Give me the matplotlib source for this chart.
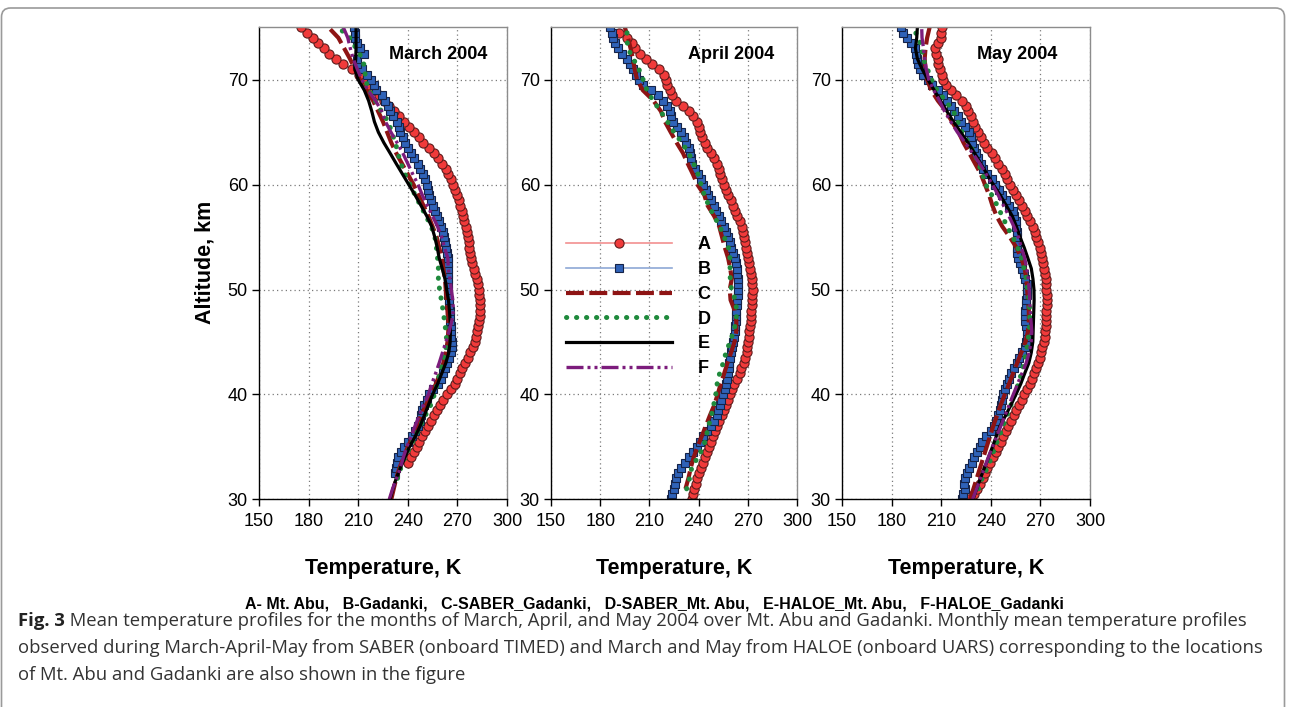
import numpy as np
import matplotlib
matplotlib.use("Agg")
import matplotlib.pyplot as plt
from matplotlib.lines import Line2D
from matplotlib.patches import FancyBboxPatch
from matplotlib.transforms import IdentityTransform

# ---------------------------------------------------------------- data
months = ["March 2004", "April 2004", "May 2004"]
series_keys = ["A", "B", "C", "D", "E", "F"]
series_names = ["A- Mt. Abu", "B-Gadanki", "C-SABER_Gadanki",
                "D-SABER_Mt. Abu", "E-HALOE_Mt. Abu", "F-HALOE_Gadanki"]
x_ticks = [150, 180, 210, 240, 270, 300]
y_ticks = [30, 40, 50, 60, 70]

# Lidar profiles (0.5 km steps): first altitude in km, then temperatures in K
mar_A_start = 33.5
mar_A = [240.3, 242.0, 243.7, 245.3, 246.9, 248.5, 250.2, 252.0, 253.9, 255.9,
         257.8, 259.6, 261.5, 263.8, 266.2, 268.3, 270.0, 271.5, 273.0, 274.5,
         276.2, 277.9, 279.4, 280.5, 281.4, 282.1, 282.7, 283.1, 283.4, 283.6,
         283.7, 283.6, 283.3, 282.8, 282.3, 281.7, 280.8, 279.9, 278.9, 278.3,
         277.8, 277.3, 276.8, 276.2, 275.7, 275.0, 274.2, 273.4, 272.6, 271.8,
         270.8, 269.8, 268.8, 267.6, 266.2, 264.6, 262.9, 260.8, 258.5, 255.8,
         252.6, 249.4, 246.5, 243.6, 240.8, 237.8, 234.6, 231.5, 228.5, 225.6,
         222.5, 219.4, 216.2, 213.2, 210.2, 206.0, 201.0, 196.5, 192.5, 189.2,
         185.8, 182.5, 178.8, 175.5]
mar_B_start = 32.5
mar_B = [232.0, 232.6, 233.4, 234.3, 235.6, 237.5, 240.0, 242.5, 244.2, 246.0,
         247.6, 248.2, 248.8, 249.6, 251.4, 253.0, 255.5, 258.0, 259.8, 261.2,
         262.5, 263.8, 265.2, 266.0, 266.5, 266.6, 266.4, 266.2, 266.0, 265.8,
         265.6, 265.4, 265.0, 264.7, 264.5, 264.5, 264.6, 264.6, 264.6, 264.6,
         264.5, 264.4, 263.7, 263.1, 262.5, 261.7, 261.0, 260.1, 259.0, 257.7,
         256.3, 255.0, 253.8, 253.0, 252.2, 251.5, 250.2, 249.0, 247.4, 245.9,
         244.0, 242.0, 240.2, 238.6, 237.0, 235.3, 234.5, 233.3, 231.3, 229.3,
         228.2, 226.5, 224.2, 220.8, 219.3, 217.7, 215.2, 212.2, 209.5, 209.0,
         213.5, 210.8, 209.5, 208.1, 207.8, 207.5]
apr_A_start = 30.0
apr_A = [235.8, 236.6, 237.3, 238.2, 239.2, 240.3, 241.4, 242.6, 243.8, 245.1,
         246.4, 247.7, 249.0, 250.2, 251.5, 252.7, 254.0, 255.3, 256.6, 257.9,
         259.2, 260.5, 261.8, 263.5, 265.0, 266.1, 267.4, 268.5, 269.3, 269.8,
         270.3, 270.7, 271.0, 271.3, 271.7, 272.0, 272.2, 272.4, 272.6, 272.8,
         273.0, 272.8, 272.4, 272.0, 271.6, 271.0, 270.2, 269.5, 269.0, 268.5,
         267.8, 267.1, 266.4, 265.0, 263.5, 262.0, 260.8, 259.5, 258.1, 256.8,
         255.5, 254.3, 253.2, 252.3, 251.3, 249.5, 247.3, 245.0, 243.6, 242.1,
         241.0, 240.0, 238.8, 236.8, 234.0, 230.5, 226.5, 223.5, 222.3, 221.0,
         220.2, 219.0, 216.0, 211.5, 208.0, 204.5, 201.5, 199.3, 196.5, 191.5]
apr_B_start = 30.0
apr_B = [223.4, 224.0, 224.7, 225.5, 226.5, 227.6, 229.3, 231.5, 234.4, 236.6,
         238.8, 240.9, 242.9, 245.3, 247.8, 249.6, 251.1, 252.0, 252.8, 253.8,
         255.0, 256.1, 256.9, 257.6, 258.0, 258.4, 258.8, 259.2, 259.8, 260.5,
         261.2, 261.6, 261.9, 262.2, 262.5, 262.8, 263.0, 263.2, 263.5, 263.9,
         264.2, 264.1, 263.8, 263.5, 263.2, 262.7, 262.0, 261.0, 260.0, 259.1,
         258.0, 256.8, 255.4, 253.8, 252.3, 250.7, 249.2, 247.5, 245.9, 244.3,
         242.8, 241.2, 239.5, 237.8, 236.2, 235.2, 234.8, 234.0, 232.6, 231.0,
         229.1, 226.9, 224.6, 223.3, 222.4, 220.5, 218.2, 215.0, 211.0, 206.2,
         203.8, 201.8, 200.0, 198.2, 196.4, 193.5, 191.0, 189.3, 188.0, 187.0,
         186.0]
may_A_start = 30.0
may_A = [226.4, 229.8, 231.8, 233.4, 235.0, 236.4, 238.0, 239.6, 241.4, 243.0,
         244.5, 246.1, 247.6, 249.1, 250.7, 252.3, 253.9, 255.4, 257.1, 258.8,
         260.3, 261.9, 263.5, 264.9, 266.3, 267.6, 268.6, 269.5, 270.3, 271.1,
         272.0, 272.7, 273.0, 273.3, 273.4, 273.5, 273.6, 273.7, 273.8, 273.8,
         273.6, 273.4, 273.2, 272.8, 272.2, 271.5, 271.0, 270.4, 269.6, 268.6,
         267.6, 266.5, 265.3, 263.7, 262.0, 260.4, 258.7, 257.0, 255.4, 253.6,
         251.6, 250.0, 248.4, 246.7, 244.5, 242.5, 240.6, 238.0, 235.9, 234.0,
         232.2, 230.5, 229.0, 227.8, 226.4, 225.0, 222.5, 219.0, 215.7, 212.8,
         211.2, 210.6, 209.5, 208.3, 207.8, 206.8, 206.0, 208.0, 209.6, 210.0,
         210.4]
may_B_start = 30.0
may_B = [222.8, 223.4, 224.2, 223.8, 224.4, 225.4, 227.0, 228.5, 230.0, 231.5,
         233.2, 234.9, 237.3, 240.2, 242.0, 243.4, 244.5, 245.5, 246.0, 246.6,
         247.5, 248.4, 249.7, 251.3, 252.4, 254.1, 255.6, 257.2, 259.0, 260.5,
         261.2, 261.6, 261.7, 261.2, 260.8, 260.7, 260.9, 261.2, 261.4, 261.6,
         261.7, 261.6, 260.7, 259.9, 258.8, 257.8, 256.6, 255.8, 255.7, 255.7,
         255.7, 255.7, 255.5, 255.2, 254.3, 253.2, 251.2, 249.2, 247.0, 244.8,
         242.7, 240.6, 237.8, 235.5, 234.0, 232.5, 231.0, 230.0, 228.7, 228.2,
         227.0, 224.6, 222.2, 220.2, 218.0, 215.7, 213.6, 211.3, 207.8, 204.6,
         201.8, 199.2, 197.3, 196.2, 195.5, 195.0, 194.0, 191.8, 189.5, 187.0,
         185.5]

# Satellite profiles (1 km steps): first altitude in km, then temperatures in K
mar_C_start = 30
mar_C = [230.0, 231.5, 233.0, 235.0, 237.5, 240.0, 243.0, 245.5, 248.0, 251.0,
         254.0, 257.0, 259.5, 261.5, 263.0, 264.0, 264.5, 264.5, 264.0, 263.5,
         263.0, 262.5, 261.5, 260.5, 259.0, 257.5, 255.0, 252.5, 249.5, 246.5,
         243.5, 240.0, 236.5, 233.0, 230.0, 227.5, 225.0, 222.0, 219.0, 215.0,
         211.0, 208.0, 205.0, 201.5, 198.0, 192.0]
mar_D_start = 32
mar_D = [233.8, 235.8, 238.2, 241.4, 244.5, 247.6, 250.7, 253.9, 256.1, 257.8,
         259.3, 260.9, 262.6, 263.6, 263.0, 262.2, 261.3, 260.3, 259.2, 258.5,
         258.5, 258.0, 257.3, 256.4, 254.2, 251.0, 247.7, 244.4, 241.4, 238.3,
         235.8, 234.0, 232.5, 230.3, 228.2, 224.0, 220.3, 216.6, 214.3, 214.1,
         212.6, 208.7, 204.8, 198.0]
mar_E_start = 30
mar_E = [229.3, 231.0, 233.0, 235.5, 238.3, 241.0, 244.5, 247.5, 250.0, 252.5,
         255.0, 258.0, 260.5, 263.0, 264.8, 265.6, 265.8, 265.6, 265.2, 264.6,
         263.5, 262.5, 260.8, 259.0, 257.8, 256.3, 254.5, 251.5, 248.0, 244.4,
         240.6, 236.8, 233.0, 229.3, 225.5, 222.2, 219.8, 218.2, 216.3, 213.7,
         210.0, 208.0, 208.5, 208.7, 208.7, 208.7]
mar_F_start = 30
mar_F = [228.8, 230.8, 233.2, 235.5, 237.3, 239.4, 242.0, 244.4, 247.0, 249.5,
         252.5, 254.5, 256.8, 259.0, 261.0, 263.0, 265.0, 266.6, 267.6, 267.2,
         266.3, 265.5, 264.5, 264.2, 262.2, 260.5, 258.0, 255.0, 251.8, 248.8,
         246.2, 243.0, 240.0, 237.0, 233.5, 229.8, 226.5, 224.2, 220.5, 216.0,
         212.2, 209.5, 207.0, 205.2, 203.7, 201.0]
apr_C_start = 31
apr_C = [232.0, 233.8, 235.2, 237.0, 239.3, 241.9, 244.4, 246.9, 249.6, 251.6,
         253.5, 255.6, 257.6, 259.8, 261.9, 263.0, 263.0, 262.0, 259.5, 259.0,
         260.2, 259.3, 258.0, 256.0, 254.3, 252.6, 249.5, 245.5, 243.5, 239.3,
         236.5, 233.4, 230.5, 226.6, 223.0, 219.5, 217.0, 212.5, 206.0, 202.5,
         201.0, 200.0, 198.5, 197.0, 195.0]
apr_D_start = 31
apr_D = [232.7, 234.5, 235.8, 239.5, 243.0, 244.6, 246.1, 247.8, 249.2, 250.5,
         251.3, 252.8, 255.0, 256.7, 259.1, 261.4, 262.9, 263.2, 262.4, 260.0,
         259.3, 259.2, 259.1, 258.2, 255.6, 253.0, 249.4, 246.2, 243.5, 241.5,
         239.6, 237.0, 234.0, 229.8, 225.0, 221.0, 216.8, 212.3, 208.5, 206.2,
         203.6, 200.2, 196.8, 196.3, 196.5]
may_C_start = 30
may_C = [227.5, 229.5, 231.5, 233.5, 235.5, 237.5, 239.5, 241.5, 243.8, 246.0,
         248.5, 251.0, 253.5, 256.0, 258.5, 261.0, 262.5, 263.0, 263.0, 262.5,
         262.0, 261.5, 260.5, 258.5, 255.5, 251.5, 247.0, 243.5, 241.0, 239.0,
         236.5, 234.0, 230.5, 227.0, 223.5, 220.5, 216.5, 213.0, 208.0, 204.0,
         201.5, 200.5, 200.0, 200.5, 201.5, 203.0]
may_D_start = 31
may_D = [232.6, 234.8, 237.9, 240.4, 242.7, 245.1, 247.5, 249.8, 252.2, 254.5,
         256.6, 258.5, 260.1, 261.4, 262.4, 263.2, 263.5, 263.6, 263.0, 262.2,
         261.4, 260.1, 258.6, 256.2, 253.3, 249.9, 246.9, 243.9, 240.6, 237.0,
         235.0, 232.6, 230.0, 226.6, 222.6, 220.0, 217.4, 212.5, 207.5, 204.2,
         201.7, 199.1, 198.2, 196.4, 192.5]
may_E_start = 30
may_E = [229.3, 231.5, 233.7, 236.2, 238.6, 241.0, 243.3, 245.6, 249.0, 252.2,
         255.2, 258.1, 260.5, 263.0, 264.5, 265.4, 265.6, 265.8, 266.0, 266.2,
         266.1, 265.5, 264.5, 262.4, 260.2, 257.7, 255.5, 253.0, 249.4, 245.7,
         241.5, 237.7, 234.0, 230.2, 226.2, 221.8, 217.4, 213.4, 209.6, 205.8,
         202.0, 198.5, 195.6, 194.4, 195.2, 195.6]
may_F_start = 30
may_F = [229.0, 231.4, 233.7, 236.2, 238.5, 241.0, 243.6, 246.1, 248.6, 251.1,
         253.6, 256.2, 258.8, 261.4, 263.2, 264.4, 264.8, 264.3, 263.8, 263.5,
         263.2, 262.7, 261.7, 260.5, 258.5, 256.7, 254.0, 251.0, 247.7, 244.5,
         241.0, 237.2, 233.4, 229.0, 224.5, 219.8, 215.8, 212.0, 209.0, 205.5,
         202.5, 201.0, 200.0, 199.3, 198.4, 198.2]

caption_lines = [
    "Mean temperature profiles for the months of March, April, and May 2004 over Mt. Abu and Gadanki. Monthly mean temperature profiles",
    "observed during March-April-May from SABER (onboard TIMED) and March and May from HALOE (onboard UARS) corresponding to the locations",
    "of Mt. Abu and Gadanki are also shown in the figure",
]

# ---------------------------------------------------------------- styles
RED, RED_EDGE, RED_LINE = "#f03a3a", "#5e1c1c", "#f29090"
BLUE, BLUE_EDGE, BLUE_LINE = "#2f62b8", "#152348", "#8ea8d6"
DARKRED, GREEN, PURPLE = "#8e1414", "#1f8a3c", "#7c1c7c"

styles = {
    "A": dict(color=RED_LINE, lw=1.2, marker="o", ms=6.6, mfc=RED, mec=RED_EDGE, mew=0.8),
    "B": dict(color=BLUE_LINE, lw=1.2, marker="s", ms=5.2, mfc=BLUE, mec=BLUE_EDGE, mew=0.8),
    "C": dict(color=DARKRED, lw=3.0, dashes=(4.3, 1.3), dash_capstyle="butt"),
    "D": dict(color=GREEN, lw=3.6, dashes=(0.05, 1.95), dash_capstyle="round"),
    "E": dict(color="black", lw=2.3),
    "F": dict(color=PURPLE, lw=2.4, dashes=(5.1, 1.2, 0.9, 1.2, 0.9, 1.2), dash_capstyle="butt"),
}

def levels(start, values, step):
    return start + step * np.arange(len(values))

panels = [
    {"A": (mar_A_start, mar_A, 0.5), "B": (mar_B_start, mar_B, 0.5),
     "C": (mar_C_start, mar_C, 1.0), "D": (mar_D_start, mar_D, 1.0),
     "E": (mar_E_start, mar_E, 1.0), "F": (mar_F_start, mar_F, 1.0)},
    {"A": (apr_A_start, apr_A, 0.5), "B": (apr_B_start, apr_B, 0.5),
     "C": (apr_C_start, apr_C, 1.0), "D": (apr_D_start, apr_D, 1.0)},
    {"A": (may_A_start, may_A, 0.5), "B": (may_B_start, may_B, 0.5),
     "C": (may_C_start, may_C, 1.0), "D": (may_D_start, may_D, 1.0),
     "E": (may_E_start, may_E, 1.0), "F": (may_F_start, may_F, 1.0)},
]

plt.rcParams["font.family"] = ["Liberation Sans", "DejaVu Sans"]

W, H = 1290, 707
fig = plt.figure(figsize=(W / 100, H / 100), dpi=100)

axes_px = [(259, 507), (551, 797), (842, 1090)]
top_px, bot_px = 27.3, 499.3
title_x = [0.722, 0.732, 0.706]

axes = []
for i, (x0, x1) in enumerate(axes_px):
    ax = fig.add_axes([x0 / W, (H - bot_px) / H, (x1 - x0) / W, (bot_px - top_px) / H])
    axes.append(ax)
    for key in series_keys:
        if key in panels[i]:
            start, vals, step = panels[i][key]
            ax.plot(vals, levels(start, vals, step), **styles[key])
    ax.set_xlim(150, 300)
    ax.set_ylim(30, 75)
    ax.set_xticks(x_ticks)
    ax.set_yticks(y_ticks)
    ax.grid(True, ls=(0, (1, 2.5)), color="#7a7a7a", lw=0.9)
    ax.set_axisbelow(True)
    ax.tick_params(direction="out", length=5, width=1, labelsize=13, pad=3,
                   colors="black")
    ax.tick_params(axis="x", pad=5)
    for side in ("left", "bottom"):
        ax.spines[side].set_color("black")
        ax.spines[side].set_linewidth(1.0)
    for side in ("top", "right"):
        ax.spines[side].set_color("#8c8c8c")
        ax.spines[side].set_linewidth(1.0)
    ax.set_xlabel("Temperature, K", fontsize=15.5, fontweight="bold", labelpad=20)
    ax.text(title_x[i], 0.943, months[i], transform=ax.transAxes, ha="center",
            va="center", fontsize=13, fontweight="bold")

fig.text(205 / W, (H - 262) / H, "Altitude, km", rotation=90, ha="center",
         va="center", fontsize=15.5, fontweight="bold")

# legend drawn inside the April panel
handles = [Line2D([], [], **styles[k]) for k in series_keys]
axes[1].legend(handles, series_keys, loc="upper left", bbox_to_anchor=(0.06, 0.557),
               frameon=False, handlelength=5.9, handletextpad=1.4, labelspacing=0.43,
               borderaxespad=0, borderpad=0, numpoints=1,
               prop=dict(family="Liberation Sans", weight="bold", size=13))

# series key line under the panels
fig.text(654 / W, (H - 604) / H, ",   ".join(series_names), ha="center", va="center",
         fontsize=11.5, fontweight="bold")

# caption
cap_font = ["Open Sans", "DejaVu Sans"]
cap_size = 13.3
cap_y = [621, 648, 675]
t0 = fig.text(18 / W, (H - cap_y[0]) / H, "Fig. 3", ha="left", va="center",
              fontsize=cap_size, fontweight="bold", family=cap_font, color="#222222")
axes[0].annotate(" " + caption_lines[0], xy=(1, 0), xycoords=t0, ha="left",
                 va="bottom", fontsize=cap_size, family=cap_font, color="#333333",
                 annotation_clip=False)
for yy, line in zip(cap_y[1:], caption_lines[1:]):
    fig.text(18 / W, (H - yy) / H, line, ha="left", va="center", fontsize=cap_size,
             family=cap_font, color="#333333")

# rounded frame around the figure
frame = FancyBboxPatch((1.5, -30), 1283, H - 8 + 30, boxstyle="round,pad=0,rounding_size=9",
                       transform=IdentityTransform(), fill=False, edgecolor="#9a9a9a",
                       lw=1.2)
fig.patches.append(frame)

fig.savefig("out.png", dpi=100)
